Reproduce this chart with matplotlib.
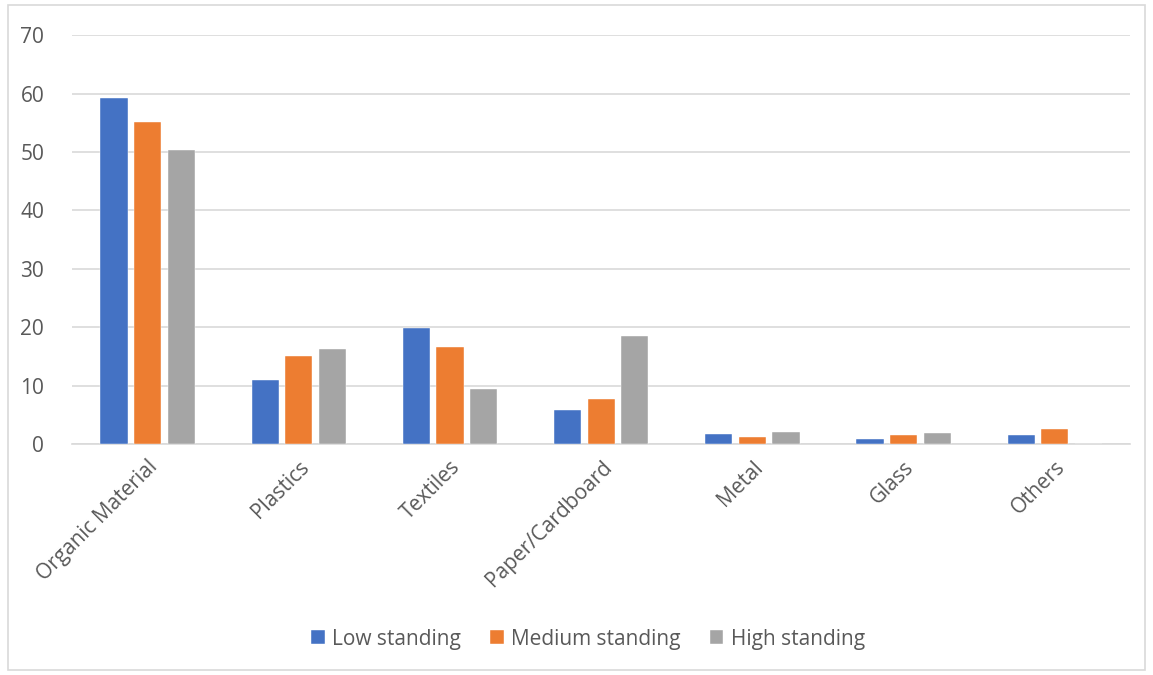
import matplotlib.pyplot as plt
import numpy as np
from matplotlib.patches import Rectangle

plt.rcParams['font.family'] = ['Open Sans', 'DejaVu Sans']

# Waste composition by standing (%)
categories = ['Organic Material', 'Plastics', 'Textiles', 'Paper/Cardboard',
              'Metal', 'Glass', 'Others']
low_standing = [59.2, 10.9, 19.8, 5.9, 1.7, 0.95, 1.5]
medium_standing = [55.2, 15.1, 16.6, 7.7, 1.3, 1.5, 2.6]
high_standing = [50.3, 16.2, 9.5, 18.45, 2.05, 1.9, 0.0]

series = {
    'Low standing': (low_standing, '#4472C4'),
    'Medium standing': (medium_standing, '#ED7D31'),
    'High standing': (high_standing, '#A5A5A5'),
}

fig = plt.figure(figsize=(11.53, 6.75), dpi=100)
ax = fig.add_axes([0.0624, 0.342, 0.918, 0.606])

x = np.arange(len(categories))
width = 0.18
step = 0.222
for i, (name, (vals, color)) in enumerate(series.items()):
    ax.bar(x + (i - 1) * step, vals, width, color=color, label=name,
           edgecolor='white', linewidth=0.3, zorder=3)

ax.set_xlim(-0.5, len(categories) - 0.5)
ax.set_ylim(0, 70)
ax.set_yticks(range(0, 71, 10))
ax.grid(axis='y', color='#d9d9d9', linewidth=1.2, zorder=0)
for side in ['top', 'right', 'left']:
    ax.spines[side].set_visible(False)
ax.spines['bottom'].set_color('#d9d9d9')
ax.spines['bottom'].set_linewidth(1.2)

ax.set_xticks(x)
ax.set_xticklabels(categories, rotation=45, ha='right', rotation_mode='anchor')
ax.tick_params(axis='both', length=0, labelsize=15, labelcolor='#595959')
ax.tick_params(axis='y', pad=20)
ax.tick_params(axis='x', pad=9)

ax.legend(loc='center', bbox_to_anchor=(0.51, 0.053), bbox_transform=fig.transFigure,
          ncol=3, frameon=False, fontsize=15, labelcolor='#595959',
          handlelength=0.65, handleheight=0.65, handletextpad=0.35, columnspacing=1.4)

# outer chart border
fig.patches.append(Rectangle((0.007, 0.007), 0.986, 0.986, transform=fig.transFigure,
                             fill=False, edgecolor='#d9d9d9', linewidth=1.2))

fig.savefig('out.png', dpi=100)
